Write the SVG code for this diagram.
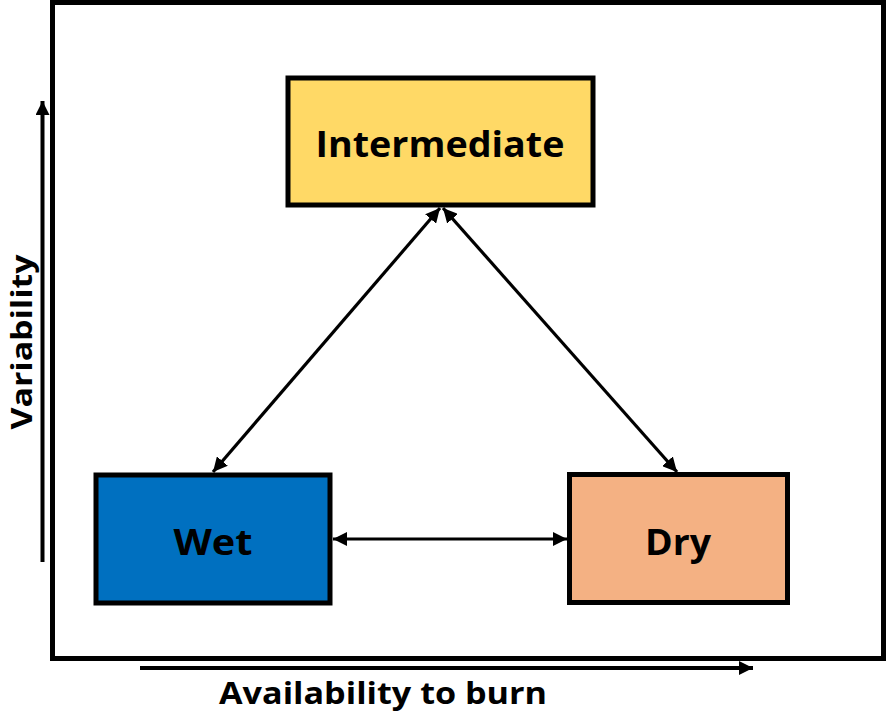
<svg xmlns="http://www.w3.org/2000/svg" width="886" height="712" viewBox="0 0 886 712">
<style>
.box{stroke:#000;stroke-width:5}
.lbl{font-family:"Open Sans","Liberation Sans",sans-serif;font-weight:bold;fill:#000;text-anchor:middle}
.conn{stroke:#000;stroke-width:3.2;fill:none}
.axis{stroke:#000;stroke-width:4;fill:none}
</style>
<defs>
<marker id="ah" viewBox="0 0 10 10" refX="10" refY="5" markerWidth="4.5" markerHeight="4.5" orient="auto-start-reverse" markerUnits="strokeWidth">
<path d="M0,0 L10,5 L0,10 z" fill="#000"/>
</marker>
<marker id="axh" viewBox="0 0 10 10" refX="10" refY="5" markerWidth="3.5" markerHeight="3.5" orient="auto" markerUnits="strokeWidth">
<path d="M0,0 L10,5 L0,10 z" fill="#000"/>
</marker>
</defs>
<rect width="886" height="712" fill="#fff"/>
<rect x="52.5" y="2.5" width="831" height="656" fill="#fff" stroke="#000" stroke-width="5"/>
<g id="axes">
<line class="axis" x1="42.5" y1="562" x2="42.5" y2="101" marker-end="url(#axh)"/>
<line class="axis" x1="140" y1="668" x2="753" y2="668" marker-end="url(#axh)"/>
<text class="lbl" x="383" y="704" font-size="30" textLength="328" lengthAdjust="spacingAndGlyphs">Availability to burn</text>
<text class="lbl" transform="translate(32,342) rotate(-90)" font-size="28" textLength="175" lengthAdjust="spacingAndGlyphs">Variability</text>
</g>
<g id="connectors">
<line class="conn" x1="440" y1="208" x2="213" y2="472" marker-start="url(#ah)" marker-end="url(#ah)"/>
<line class="conn" x1="443" y1="208" x2="677" y2="472" marker-start="url(#ah)" marker-end="url(#ah)"/>
<line class="conn" x1="333" y1="539" x2="567" y2="539" marker-start="url(#ah)" marker-end="url(#ah)"/>
</g>
<g id="intermediate">
<rect class="box" x="288" y="78" width="305" height="127" fill="#FFD966"/>
<text class="lbl" x="440" y="157" font-size="36" textLength="249" lengthAdjust="spacingAndGlyphs">Intermediate</text>
</g>
<g id="wet">
<rect class="box" x="96" y="475" width="234" height="128" fill="#0070C0"/>
<text class="lbl" x="213" y="555" font-size="36" textLength="79" lengthAdjust="spacingAndGlyphs">Wet</text>
</g>
<g id="dry">
<rect class="box" x="569.5" y="474.5" width="218" height="128" fill="#F4B183"/>
<text class="lbl" x="678" y="555" font-size="36" textLength="66" lengthAdjust="spacingAndGlyphs">Dry</text>
</g>
</svg>
